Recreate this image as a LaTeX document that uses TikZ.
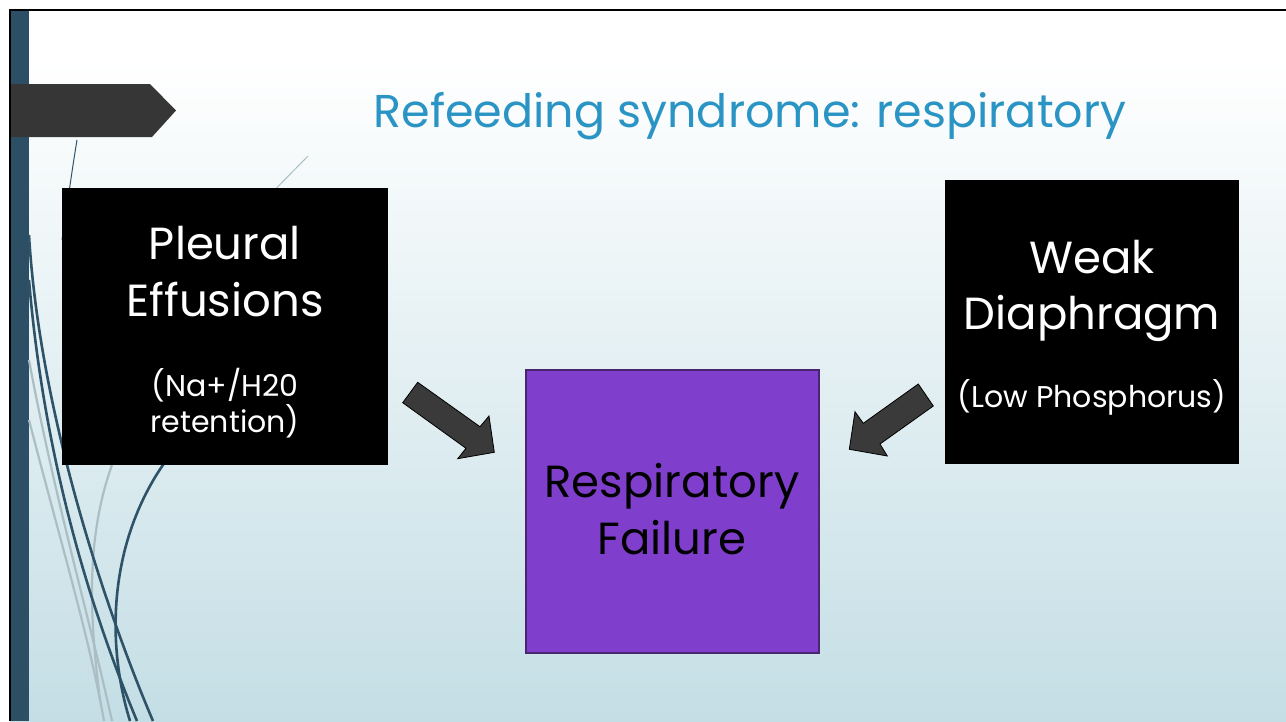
\documentclass[tikz,border=0pt]{standalone}
\usepackage{fontspec}
\setmainfont{Poppins}
\definecolor{bgbot}{RGB}{196,222,229}
\definecolor{barblue}{RGB}{45,79,101}
\definecolor{tabgray}{RGB}{54,54,54}
\definecolor{titleblue}{RGB}{42,148,196}
\definecolor{purplefill}{RGB}{127,63,204}
\definecolor{purpleline}{RGB}{74,38,112}
\definecolor{arrowgray}{RGB}{58,58,58}
\definecolor{wispblue}{RGB}{46,82,104}
\definecolor{wispgray}{RGB}{170,190,196}
\tikzset{
  darkbox/.style={fill=black, draw=none, inner sep=0, anchor=north west},
  purplebox/.style={fill=purplefill, draw=purpleline, line width=1.5pt, inner sep=0, anchor=north west},
  blockarrow/.style={fill=arrowgray, draw=black, line width=0.8pt, line join=miter},
  wisp/.style={draw=wispblue, line width=2.6pt},
  wispthin/.style={draw=wispblue, line width=1pt},
  wispfaint/.style={draw=wispgray, line width=2.2pt},
  bigtext/.style={anchor=base, inner sep=0, font=\fontsize{45}{54}\selectfont},
  titletext/.style={anchor=base, inner sep=0, font=\fontsize{46}{55}\selectfont},
  smalltext/.style={anchor=base, inner sep=0, font=\fontsize{30}{36}\selectfont},
}
\begin{document}
\begin{tikzpicture}[x=1pt,y=-1pt]
\useasboundingbox (0,0) rectangle (1286,721);
% page background
\fill[white] (0,0) rectangle (1286,721);
\fill[white] (10,10) rectangle (1286,60);
\shade[top color=white, bottom color=bgbot] (10,60) rectangle (1286,721);
% frame lines
\draw[black, line width=2pt] (10,10) -- (1286,10);
\draw[black, line width=2pt] (10,9) -- (10,721);
% vertical accent bar
\fill[barblue] (11,11) rectangle (29,721);
% decorative wisps
\draw[wispfaint] (29,360) .. controls (55,500) and (90,620) .. (112,721);
\draw[wispfaint] (29,420) .. controls (60,540) and (90,640) .. (104,721);
\draw[wispfaint] (112,465) .. controls (85,540) and (90,620) .. (100,700);
\draw[wispgray, line width=1pt] (308,156) -- (250,215);
\draw[wispthin] (77,140) .. controls (72,170) and (68,200) .. (62,240);
\draw[wisp] (29,235) .. controls (40,420) and (110,620) .. (153,721);
\draw[wisp] (29,280) .. controls (45,470) and (95,620) .. (137,721);
\draw[wisp] (165,462) .. controls (110,540) and (105,640) .. (130,721);
% section tab
\fill[tabgray] (11,84) -- (150,84) -- (176,110.5) -- (152,137) -- (11,137) -- cycle;
% title
\node[titletext, text=titleblue] (title) at (750,127) {Refeeding syndrome: respiratory};
% boxes
\node[darkbox, minimum width=326, minimum height=277] (pleural) at (62,188) {};
\node[darkbox, minimum width=294, minimum height=284] (weak) at (945,180) {};
\node[purplebox, minimum width=293, minimum height=283] (fail) at (525,369) {};
% box texts
\node[bigtext, text=white] (p1) at (225,259) {Pleural};
\node[bigtext, text=white] (p2) at (225,316) {Effusions};
\node[smalltext, text=white] (p3) at (225,396) {(Na+/H20};
\node[smalltext, text=white] (p4) at (225,432) {retention)};
\node[bigtext, text=white] (w1) at (1092,273) {Weak};
\node[bigtext, text=white] (w2) at (1092,329) {Diaphragm};
\node[smalltext, text=white] (w3) at (1092,407) {(Low Phosphorus)};
\node[bigtext, text=black] (f1) at (672,497) {Respiratory};
\node[bigtext, text=black] (f2) at (672,554) {Failure};
% block arrows
\draw[blockarrow] (417.7,382.3) -- (480,426.7) -- (489,416) -- (494.3,452.3)
  -- (457.7,458.7) -- (466,448.3) -- (402.7,402.7) -- cycle;
\draw[blockarrow] (918.3,384) -- (933.3,406) -- (880,444) -- (887.3,456)
  -- (849.3,449.3) -- (855,411.7) -- (863.3,423.3) -- cycle;
\end{tikzpicture}
\end{document}
